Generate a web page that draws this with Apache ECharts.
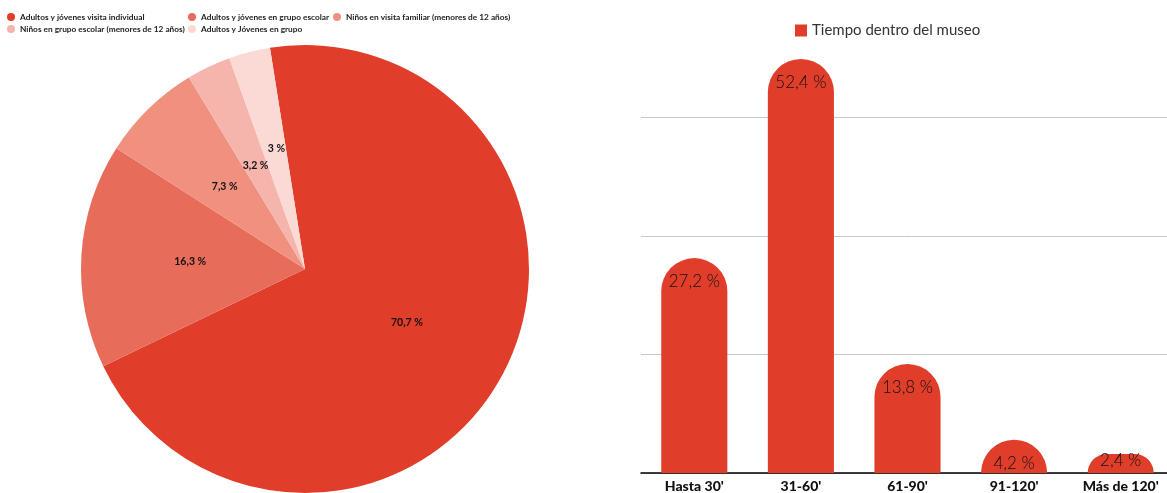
<!DOCTYPE html>
<html>
<head>
<meta charset="utf-8">
<script src="https://cdn.jsdelivr.net/npm/echarts@6/dist/echarts.min.js"></script>
<style>
html,body{margin:0;padding:0;background:#fff;}
#c{width:1167px;height:493px;}
</style>
</head>
<body>
<div id="c"></div>
<script>
const pieNames = [
  'Adultos y jóvenes visita individual',
  'Adultos y jóvenes en grupo escolar',
  'Niños en visita familiar (menores de 12 años)',
  'Niños en grupo escolar (menores de 12 años)',
  'Adultos y Jóvenes en grupo'
];
const pieValues = [70.7, 16.3, 7.3, 3.2, 3];
const pieColors = ['#E03E2A', '#E86C5A', '#F0907F', '#F5B5AC', '#FBDAD5'];

const barCategories = ["Hasta 30'", "31-60'", "61-90'", "91-120'", "Más de 120'"];
const barValues = [27.2, 52.4, 13.8, 4.2, 2.4];
const barSeriesName = 'Tiempo dentro del museo';

const fmt = v => String(v).replace('.', ',') + ' %';
const FONT = 'Lato, "Open Sans", sans-serif';

// legend layout slots (icon left x, top y) for the pie legend items
const legendSlots = [[7, 13], [188, 13], [333, 13], [7, 25], [188, 25]];

const pieLegends = pieNames.map((n, i) => ({
  data: [n],
  left: legendSlots[i][0], top: legendSlots[i][1],
  padding: 0,
  icon: 'circle', itemWidth: 8, itemHeight: 8,
  textStyle: {fontSize: 8.3, fontWeight: 'bold', color: '#222', fontFamily: FONT}
}));

const chart = echarts.init(document.getElementById('c'), null, {renderer: 'canvas'});
chart.setOption({
  animation: false,
  textStyle: {fontFamily: FONT},
  legend: pieLegends.concat([
    {
      data: [barSeriesName],
      left: 795, top: 23, padding: 0,
      icon: 'rect', itemWidth: 12, itemHeight: 12,
      textStyle: {fontSize: 15, color: '#333', fontFamily: FONT}
    }
  ]),
  grid: {left: 641, right: -7, top: -1, bottom: 20, outerBoundsMode: 'none', containLabel: false},
  xAxis: {
    type: 'category', data: barCategories,
    axisLine: {lineStyle: {color: '#000', width: 1.5}},
    axisTick: {show: false},
    axisLabel: {fontSize: 14, fontWeight: 900, color: '#111', margin: 6, fontFamily: FONT}
  },
  yAxis: {
    type: 'value', min: 0, max: 60, interval: 15,
    axisLabel: {show: false}, axisLine: {show: false}, axisTick: {show: false},
    splitLine: {lineStyle: {color: '#c8c8c8'}}
  },
  series: [
    {
      type: 'pie',
      center: [305, 269], radius: 224,
      startAngle: 99, clockwise: true,
      data: pieNames.map((n, i) => {
        const d = {name: n, value: pieValues[i], itemStyle: {color: pieColors[i]}};
        if (i === pieNames.length - 1) d.label = {offset: [0, -9]};
        return d;
      }),
      label: {
        position: 'inside',
        formatter: p => fmt(p.value),
        fontSize: 10.5, fontWeight: 'bold', color: '#111', fontFamily: FONT
      },
      labelLine: {show: false},
      emphasis: {disabled: true}
    },
    {
      type: 'bar', name: barSeriesName,
      data: barValues.map((v, i) => i === barValues.length - 1
        ? {value: v, label: {position: 'insideBottom', distance: 4}}
        : v),
      barWidth: '62%',
      itemStyle: {color: '#E03E2A', borderRadius: [33, 33, 0, 0]},
      label: {
        show: true, position: 'insideTop', distance: 15,
        formatter: p => fmt(p.value),
        fontSize: 17, fontWeight: 300, color: '#111', fontFamily: FONT
      }
    }
  ]
});
</script>
</body>
</html>
